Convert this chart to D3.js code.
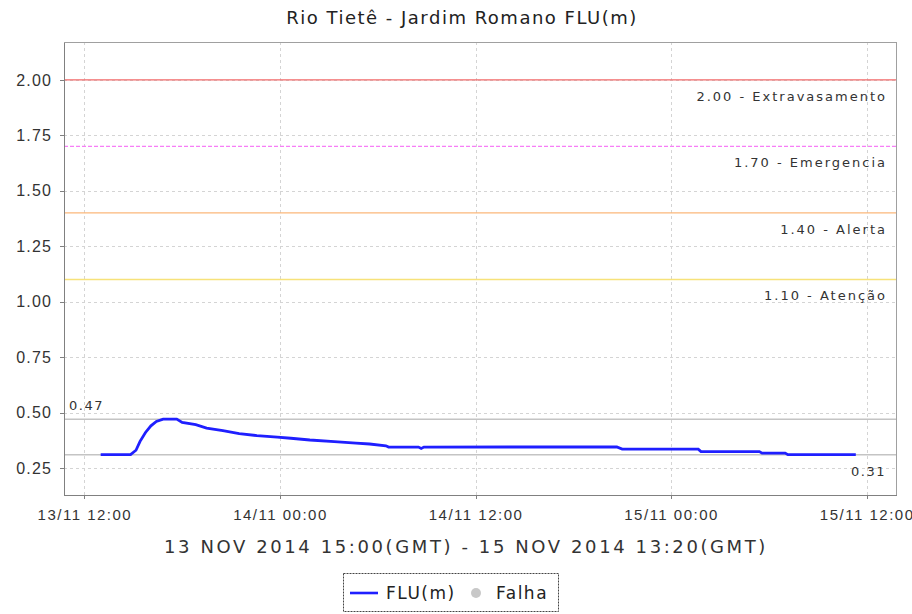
<!DOCTYPE html>
<meta charset="utf-8">
<style>
    body { margin: 0; background: #ffffff; }
    svg { font-family: "DejaVu Sans", sans-serif; }
    .axis path, .axis line { stroke: #808080; shape-rendering: crispEdges; }
    .axis text { fill: #333; font-size: 15px; letter-spacing: 1.5px; }
    .y.axis text { font-size: 16px; letter-spacing: 1.2px; }
    .grid line { stroke: #d4d4d4; stroke-dasharray: 3,3; shape-rendering: crispEdges; }
</style>
<svg width="912" height="614"></svg>
<script src="https://cdn.jsdelivr.net/npm/d3@7"></script>
<script>
    // level readings (local time)
    var times = [
        "2014-11-13 13:00", "2014-11-13 14:50", "2014-11-13 15:10", "2014-11-13 15:25",
        "2014-11-13 15:45", "2014-11-13 16:05", "2014-11-13 16:25", "2014-11-13 16:50",
        "2014-11-13 17:40", "2014-11-13 18:00", "2014-11-13 18:50", "2014-11-13 19:30",
        "2014-11-13 20:30", "2014-11-13 21:30", "2014-11-13 22:35", "2014-11-13 23:50",
        "2014-11-14 00:40", "2014-11-14 01:50", "2014-11-14 03:20", "2014-11-14 04:40",
        "2014-11-14 05:30", "2014-11-14 06:30", "2014-11-14 06:40", "2014-11-14 08:30",
        "2014-11-14 08:40", "2014-11-14 08:50", "2014-11-14 20:40", "2014-11-14 21:00",
        "2014-11-15 01:40", "2014-11-15 01:50", "2014-11-15 05:25", "2014-11-15 05:35",
        "2014-11-15 07:00", "2014-11-15 07:10", "2014-11-15 11:20"
    ];
    var levels = [
        0.31, 0.31, 0.33, 0.37,
        0.41, 0.44, 0.46, 0.47,
        0.47, 0.455, 0.445, 0.43,
        0.418, 0.405, 0.396, 0.389,
        0.384, 0.376, 0.369, 0.362,
        0.358, 0.350, 0.344, 0.344,
        0.338, 0.344, 0.345, 0.335,
        0.335, 0.324, 0.324, 0.317,
        0.317, 0.310, 0.310
    ];

    var thresholds = [2.00, 1.70, 1.40, 1.10];
    var thresholdNames = ["Extravasamento", "Emergencia", "Alerta", "Atenção"];
    var thresholdColors = ["#f26a6a", "#f77ef7", "#fbb77a", "#f7e27a"];
    var thresholdDash = [null, "4,2", null, null];

    var yTicks = [0.25, 0.50, 0.75, 1.00, 1.25, 1.50, 1.75, 2.00];
    var xTicks = ["2014-11-13 12:00", "2014-11-14 00:00", "2014-11-14 12:00", "2014-11-15 00:00", "2014-11-15 12:00"];

    var parse = d3.utcParse("%Y-%m-%d %H:%M");
    var data = times.map(function(t, i) { return {t: parse(t), v: levels[i]}; });

    var svg = d3.select("svg"),
        margin = {top: 42, right: 16, bottom: 119, left: 64},
        width = +svg.attr("width") - margin.left - margin.right,
        height = +svg.attr("height") - margin.top - margin.bottom;

    var x = d3.scaleUtc()
        .domain([parse("2014-11-13 10:45"), parse("2014-11-15 13:48")])
        .range([0, width]);
    var y = d3.scaleLinear().domain([0.128, 2.171]).range([height, 0]);

    var g = svg.append("g")
        .attr("transform", "translate(" + margin.left + "," + margin.top + ")");

    // grid
    g.append("g").attr("class", "grid")
        .selectAll("line").data(yTicks).enter().append("line")
        .attr("x1", 0).attr("x2", width)
        .attr("y1", function(d) { return Math.round(y(d)) + 0.5; })
        .attr("y2", function(d) { return Math.round(y(d)) + 0.5; });
    g.append("g").attr("class", "grid")
        .selectAll("line").data(xTicks.map(parse)).enter().append("line")
        .attr("y1", 0).attr("y2", height)
        .attr("x1", function(d) { return Math.round(x(d)) + 0.5; })
        .attr("x2", function(d) { return Math.round(x(d)) + 0.5; });

    // plot outline
    g.append("rect")
        .attr("x", 0.5).attr("y", 0.5).attr("width", width).attr("height", height)
        .attr("fill", "none").attr("stroke", "#a0a0a0");

    // threshold lines
    thresholds.forEach(function(v, i) {
        g.append("line")
            .attr("x1", 0).attr("x2", width)
            .attr("y1", y(v)).attr("y2", y(v))
            .attr("stroke", thresholdColors[i])
            .attr("stroke-width", 1.3)
            .attr("stroke-dasharray", thresholdDash[i]);
        g.append("text")
            .attr("x", width - 9).attr("y", y(v) + 21)
            .attr("text-anchor", "end")
            .style("font-size", "13px").style("letter-spacing", "2px").style("fill", "#333")
            .text(d3.format(".2f")(v) + " - " + thresholdNames[i]);
    });

    // min / max markers
    var vmax = d3.max(levels), vmin = d3.min(levels);
    [vmax, vmin].forEach(function(v) {
        g.append("line")
            .attr("x1", 0).attr("x2", width)
            .attr("y1", y(v)).attr("y2", y(v))
            .attr("stroke", "#c4c4c4").attr("stroke-width", 1.5);
    });
    g.append("text").attr("x", 5).attr("y", y(vmax) - 9)
        .style("font-size", "13px").style("letter-spacing", "1.5px").style("fill", "#333")
        .text(d3.format(".2f")(vmax));
    g.append("text").attr("x", width - 10).attr("y", y(vmin) + 21)
        .attr("text-anchor", "end")
        .style("font-size", "13px").style("letter-spacing", "1.5px").style("fill", "#333")
        .text(d3.format(".2f")(vmin));

    // series
    g.append("path")
        .datum(data)
        .attr("fill", "none")
        .attr("stroke", "#1f1fff")
        .attr("stroke-width", 2.8)
        .attr("d", d3.line().x(function(d) { return x(d.t); }).y(function(d) { return y(d.v); }));

    // axes
    g.append("g").attr("class", "x axis")
        .attr("transform", "translate(0," + height + ")")
        .call(d3.axisBottom(x).tickValues(xTicks.map(parse)).tickSizeInner(4).tickSizeOuter(0)
            .tickFormat(d3.utcFormat("%d/%m %H:%M")))
        .selectAll("text").attr("dy", "1.2em");
    g.append("g").attr("class", "y axis")
        .call(d3.axisLeft(y).tickValues(yTicks).tickSizeInner(4).tickSizeOuter(0)
            .tickFormat(d3.format(".2f")))
        .selectAll("text").attr("dx", "-0.3em");

    // title and time span
    svg.append("text")
        .attr("x", 462).attr("y", 24).attr("text-anchor", "middle")
        .style("font-size", "18px").style("letter-spacing", "1.5px").style("fill", "#222")
        .text("Rio Tietê - Jardim Romano FLU(m)");
    svg.append("text")
        .attr("x", 466).attr("y", 553).attr("text-anchor", "middle")
        .style("font-size", "18px").style("letter-spacing", "2.6px").style("fill", "#333")
        .text("13 NOV 2014 15:00(GMT) - 15 NOV 2014 13:20(GMT)");

    // legend
    var lg = svg.append("g");
    lg.append("rect")
        .attr("x", 343.5).attr("y", 573.5).attr("width", 215).attr("height", 38)
        .attr("fill", "none").attr("stroke", "#444").attr("stroke-dasharray", "2,1");
    lg.append("line")
        .attr("x1", 350).attr("x2", 378).attr("y1", 593).attr("y2", 593)
        .attr("stroke", "#1f1fff").attr("stroke-width", 2.6);
    lg.append("text").attr("x", 386).attr("y", 599)
        .style("font-size", "17px").style("letter-spacing", "1.5px").style("fill", "#222")
        .text("FLU(m)");
    lg.append("circle").attr("cx", 476).attr("cy", 593).attr("r", 5).attr("fill", "#c8c8c8");
    lg.append("text").attr("x", 496).attr("y", 599)
        .style("font-size", "17px").style("letter-spacing", "1.5px").style("fill", "#222")
        .text("Falha");
</script>
